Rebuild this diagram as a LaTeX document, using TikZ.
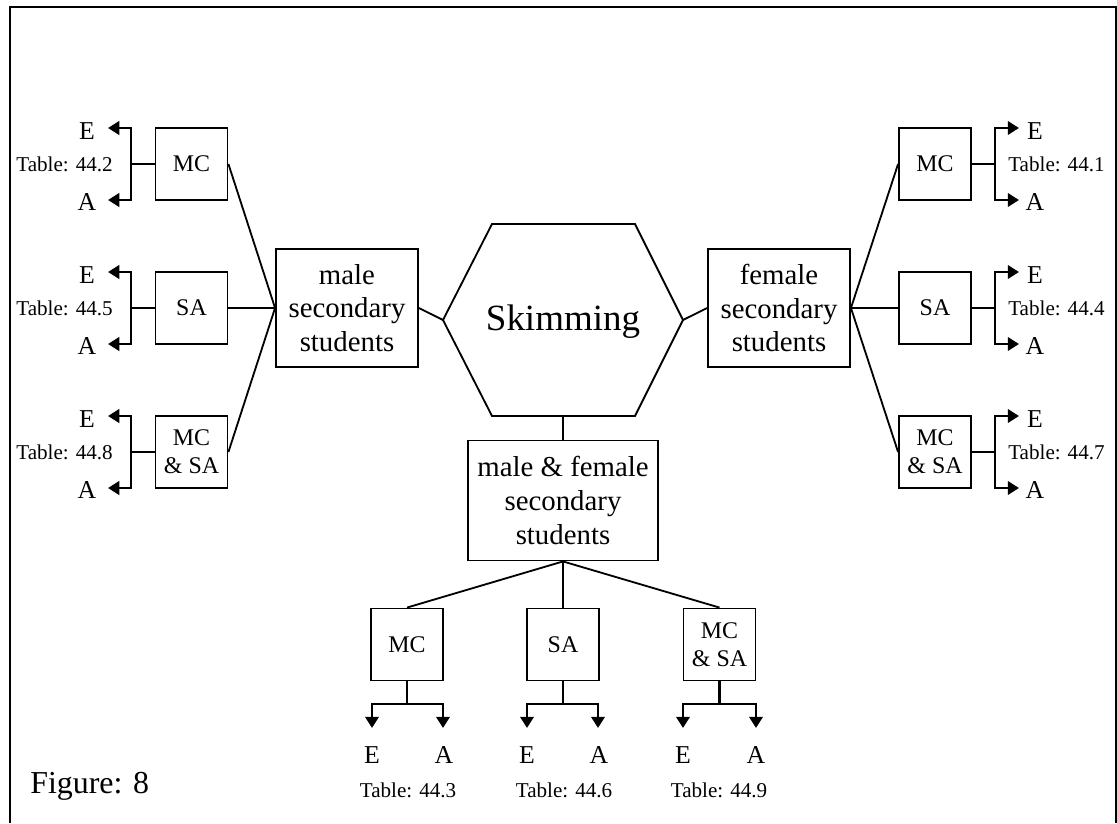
\documentclass[tikz,border=0pt]{standalone}
\usepackage{fontspec}
\setmainfont{Liberation Serif}
\usetikzlibrary{arrows.meta}

\begin{document}
\begin{tikzpicture}[x=0.025cm, y=-0.025cm,
    box/.style={draw, line width=1.3pt, minimum width=1.8cm, minimum height=1.8cm,
        inner sep=0pt, align=center, font=\fontsize{17}{20}\selectfont},
    bigbox/.style={draw, line width=1.3pt, minimum width=3.55cm, minimum height=2.95cm,
        inner sep=0pt, align=center, font=\fontsize{20.5}{24}\selectfont},
    link/.style={line width=1.3pt},
    branch/.style={line width=2.1pt},
    tip/.style={branch, -{Triangle[length=8pt, width=9.5pt]}},
    letter/.style={inner sep=0pt, font=\fontsize{18.3}{18}\selectfont},
    tab/.style={inner sep=0pt, font=\fontsize{15}{15}\selectfont}]
        \useasboundingbox (0, 0) rectangle (1117, 823);
        \draw[line width=1.8pt] (10, 823) -- (10, 7) -- (1116, 7) -- (1116, 823);

        % centre
        \coordinate (hexL) at (443, 320);
        \coordinate (hexR) at (683, 320);
        \coordinate (hexB) at (563, 416);
        \draw[link] (hexL) -- (492, 224) -- (635, 224) -- (hexR) -- (635, 416) -- (492, 416) -- cycle;
        \node[inner sep=0pt, anchor=base, font=\fontsize{26.3}{30}\selectfont] (skim) at (563, 330) {Skimming};

        \node[bigbox] (male) at (347, 308) {male\\secondary\\students};
        \node[bigbox] (female) at (779, 308) {female\\secondary\\students};
        \node[bigbox, minimum width=4.75cm, minimum height=3cm] (both) at (563, 500.5) {male \& female\\secondary\\students};

        \draw[link] (male.east) -- (hexL);
        \draw[link] (female.west) -- (hexR);
        \draw[link] (hexB) -- (both.north);

        % left: male
        \node[box] (lmc) at (191.5, 164) {MC};
        \node[box] (lsa) at (191.5, 308) {SA};
        \node[box] (lms) at (191.5, 452) {MC\\\& SA};
        \draw[link] (male.west) -- (lmc.east);
        \draw[link] (male.west) -- (lsa.east);
        \draw[link] (male.west) -- (lms.east);

        \coordinate (lmcj) at (131, 164);
        \coordinate (lmcE) at (108, 128);
        \coordinate (lmcA) at (108, 200);
        \draw[branch] (lmc.west) -- (lmcj);
        \draw[tip] (lmcj) |- (lmcE);
        \draw[tip] (lmcj) |- (lmcA);
        \node[letter] (lmcEt) at (87, 131) {E};
        \node[letter] (lmcAt) at (87, 202) {A};
        \node[tab, anchor=base east] (lmct) at (113, 171) {Table: 44.2};

        \coordinate (lsaj) at (131, 308);
        \coordinate (lsaE) at (108, 272);
        \coordinate (lsaA) at (108, 344);
        \draw[branch] (lsa.west) -- (lsaj);
        \draw[tip] (lsaj) |- (lsaE);
        \draw[tip] (lsaj) |- (lsaA);
        \node[letter] (lsaEt) at (87, 275) {E};
        \node[letter] (lsaAt) at (87, 346) {A};
        \node[tab, anchor=base east] (lsat) at (113, 315) {Table: 44.5};

        \coordinate (lmsj) at (131, 452);
        \coordinate (lmsE) at (108, 416);
        \coordinate (lmsA) at (108, 488);
        \draw[branch] (lms.west) -- (lmsj);
        \draw[tip] (lmsj) |- (lmsE);
        \draw[tip] (lmsj) |- (lmsA);
        \node[letter] (lmsEt) at (87, 419) {E};
        \node[letter] (lmsAt) at (87, 490) {A};
        \node[tab, anchor=base east] (lmst) at (113, 459) {Table: 44.8};

        % right: female
        \node[box] (rmc) at (935, 164) {MC};
        \node[box] (rsa) at (935, 308) {SA};
        \node[box] (rms) at (935, 452) {MC\\\& SA};
        \draw[link] (female.east) -- (rmc.west);
        \draw[link] (female.east) -- (rsa.west);
        \draw[link] (female.east) -- (rms.west);

        \coordinate (rmcj) at (995, 164);
        \coordinate (rmcE) at (1019, 128);
        \coordinate (rmcA) at (1019, 200);
        \draw[branch] (rmc.east) -- (rmcj);
        \draw[tip] (rmcj) |- (rmcE);
        \draw[tip] (rmcj) |- (rmcA);
        \node[letter] (rmcEt) at (1035, 131) {E};
        \node[letter] (rmcAt) at (1035, 202) {A};
        \node[tab, anchor=base west] (rmct) at (1008, 171) {Table: 44.1};

        \coordinate (rsaj) at (995, 308);
        \coordinate (rsaE) at (1019, 272);
        \coordinate (rsaA) at (1019, 344);
        \draw[branch] (rsa.east) -- (rsaj);
        \draw[tip] (rsaj) |- (rsaE);
        \draw[tip] (rsaj) |- (rsaA);
        \node[letter] (rsaEt) at (1035, 275) {E};
        \node[letter] (rsaAt) at (1035, 346) {A};
        \node[tab, anchor=base west] (rsat) at (1008, 315) {Table: 44.4};

        \coordinate (rmsj) at (995, 452);
        \coordinate (rmsE) at (1019, 416);
        \coordinate (rmsA) at (1019, 488);
        \draw[branch] (rms.east) -- (rmsj);
        \draw[tip] (rmsj) |- (rmsE);
        \draw[tip] (rmsj) |- (rmsA);
        \node[letter] (rmsEt) at (1035, 419) {E};
        \node[letter] (rmsAt) at (1035, 490) {A};
        \node[tab, anchor=base west] (rmst) at (1008, 459) {Table: 44.7};

        % bottom: male & female
        \node[box] (bmc) at (407, 644.5) {MC};
        \node[box] (bsa) at (563, 644.5) {SA};
        \node[box] (bms) at (719.5, 644.5) {MC\\\& SA};
        \draw[link] (both.south) -- (bmc.north);
        \draw[link] (both.south) -- (bsa.north);
        \draw[link] (both.south) -- (bms.north);

        \coordinate (bmcj) at (407, 704);
        \coordinate (bmcE) at (372, 728);
        \coordinate (bmcA) at (443, 728);
        \draw[branch] (bmc.south) -- (bmcj);
        \draw[tip] (bmcj) -| (bmcE);
        \draw[tip] (bmcj) -| (bmcA);
        \node[letter] (bmcEt) at (372, 755) {E};
        \node[letter] (bmcAt) at (444, 755) {A};
        \node[tab, anchor=base] (bmct) at (408, 797) {Table: 44.3};

        \coordinate (bsaj) at (563, 704);
        \coordinate (bsaE) at (527, 728);
        \coordinate (bsaA) at (598, 728);
        \draw[branch] (bsa.south) -- (bsaj);
        \draw[tip] (bsaj) -| (bsaE);
        \draw[tip] (bsaj) -| (bsaA);
        \node[letter] (bsaEt) at (527, 755) {E};
        \node[letter] (bsaAt) at (599, 755) {A};
        \node[tab, anchor=base] (bsat) at (564, 797) {Table: 44.6};

        \coordinate (bmsj) at (719.5, 704);
        \coordinate (bmsE) at (683, 728);
        \coordinate (bmsA) at (756, 728);
        \draw[branch] (bms.south) -- (bmsj);
        \draw[tip] (bmsj) -| (bmsE);
        \draw[tip] (bmsj) -| (bmsA);
        \node[letter] (bmsEt) at (683, 755) {E};
        \node[letter] (bmsAt) at (756, 755) {A};
        \node[tab, anchor=base] (bmst) at (719, 797) {Table: 44.9};

        \node[inner sep=0pt, anchor=base west, font=\fontsize{22.7}{26}\selectfont] (fig) at (30, 793) {Figure: 8};
\end{tikzpicture}
\end{document}
